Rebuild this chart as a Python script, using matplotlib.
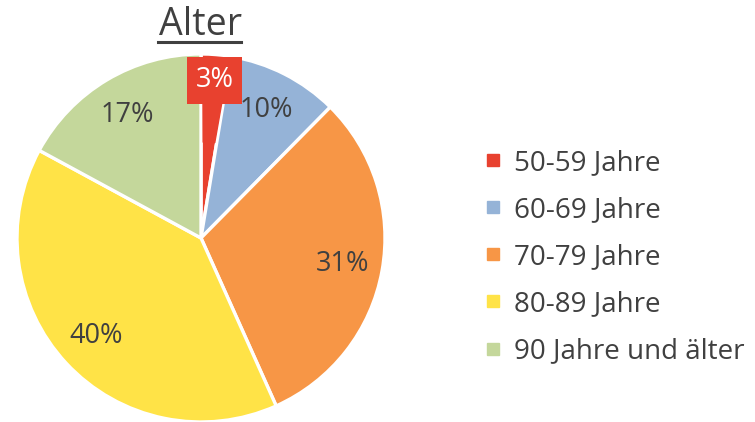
import matplotlib
matplotlib.use("Agg")
import matplotlib.pyplot as plt
from matplotlib.lines import Line2D
from matplotlib.patches import Rectangle
import numpy as np

categories = ["50-59 Jahre", "60-69 Jahre", "70-79 Jahre", "80-89 Jahre", "90 Jahre und älter"]
values = [2.6, 9.8, 30.9, 39.6, 17.1]
colors = ["#E8412F", "#95B3D7", "#F79646", "#FFE347", "#C4D79B"]
title = "Alter"

plt.rcParams['font.family'] = ['Open Sans', 'DejaVu Sans']
txt = "#404040"

fig = plt.figure(figsize=(7.55, 4.22), dpi=100)
W, H = 755, 422
R = 184
cx, cy = 201, 238
ax = fig.add_axes([(cx - R) / W, (H - cy - R) / H, 2 * R / W, 2 * R / H])
wedges, _ = ax.pie(values, colors=colors, startangle=90, counterclock=False,
                   radius=1, wedgeprops=dict(edgecolor="white", linewidth=2.4))
ax.set_xlim(-1, 1)
ax.set_ylim(-1, 1)
ax.set_aspect('equal')
ax.axis('off')

total = sum(values)
cum = 0
for i, v in enumerate(values):
    mid = (cum + v / 2) / total * 2 * np.pi
    cum += v
    lab = "%.0f%%" % (v / total * 100)
    if i == 0:
        r = 0.86
        x, y = r * np.sin(mid) + 0.003, r * np.cos(mid)
        bw, bh = 0.30, 0.255
        ax.add_patch(Rectangle((x - bw / 2, y - bh / 2), bw, bh, facecolor=colors[0],
                               edgecolor='none', zorder=3, clip_on=False))
        yb = y - bh / 2
        ax.fill([0.011, 0.114, 0.075, 0.012], [yb + 0.01, yb + 0.01, 0.52, 0.52],
                color=colors[0], zorder=3, clip_on=False)
        ax.text(x, y, lab, ha='center', va='center', color='white', fontsize=19.5,
                zorder=4, clip_on=False)
    else:
        r = 0.78
        x, y = r * np.sin(mid), r * np.cos(mid)
        ax.text(x, y, lab, ha='center', va='center', color=txt, fontsize=19.5)

# title
fig.text(cx / W, 1 - 35 / H, title, ha='center', va='baseline', fontsize=27, color=txt)
fig.add_artist(Line2D([158 / W, 241 / W], [1 - 42 / H, 1 - 42 / H], color=txt, linewidth=2.2))

handles = [Line2D([], [], marker='s', linestyle='none', markersize=9, markerfacecolor=c,
                  markeredgecolor=c) for c in colors]
leg = fig.legend(handles, categories, loc='center left',
                 bbox_to_anchor=(485 / W, 1 - 257 / H), frameon=False,
                 fontsize=20, labelcolor=txt, handlelength=0.6, handletextpad=0.45,
                 labelspacing=0.69, borderpad=0, borderaxespad=0)

fig.savefig("out.png", dpi=100)
